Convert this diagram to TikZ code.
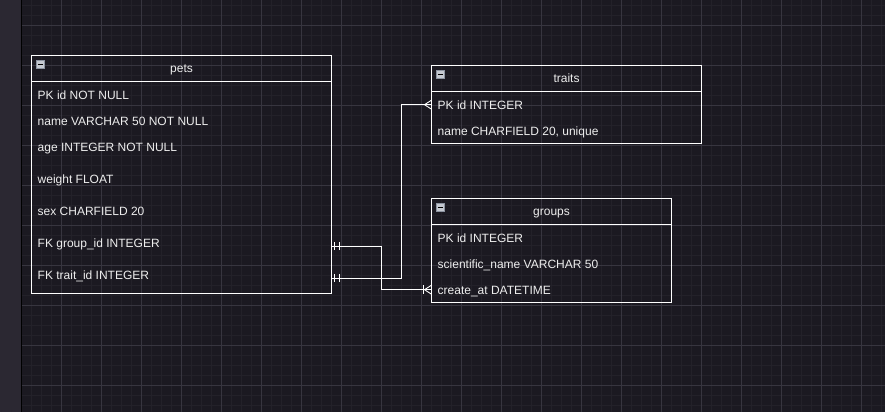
\documentclass[tikz,border=0pt]{standalone}
\usepackage{fontspec}
\setmainfont{Liberation Sans}
\usetikzlibrary{positioning}
\definecolor{erd-bg}{HTML}{1B1921}
\definecolor{erd-strip}{HTML}{2B2832}
\definecolor{erd-minor}{HTML}{232129}
\definecolor{erd-major}{HTML}{37353F}
\definecolor{erd-text}{HTML}{EEEEEE}
\definecolor{erd-icon}{HTML}{C4C8D0}
\definecolor{erd-iconedge}{HTML}{8C93A0}

\tikzset{
    tablebox/.style={draw=white, line width=0.9pt, anchor=north west, inner sep=0, outer sep=0},
    tabletitle/.style={text=erd-text, font=\fontsize{12}{14}\selectfont, inner sep=0, anchor=base},
    tablerow/.style={text=erd-text, font=\fontsize{12}{14}\selectfont, inner xsep=0,
        inner ysep=0, text height=8.6pt, text depth=0pt, anchor=base west},
    erline/.style={draw=white, line width=0.9pt},
    minusicon/.style={fill=erd-icon, draw=erd-iconedge, line width=0.6pt}
}

\begin{document}
\begin{tikzpicture}[x=1pt, y=-1pt]

    % canvas and grid
    \fill[erd-bg] (0,0) rectangle (885,412);
    \useasboundingbox (0,0) rectangle (885,412);
    \foreach \x in {31,41,...,881} {
        \draw[erd-minor, line width=0.5pt] (\x,0) -- (\x,412);
    }
    \foreach \y in {5,15,...,405} {
        \draw[erd-minor, line width=0.5pt] (21,\y) -- (885,\y);
    }
    \foreach \x in {61,101,...,861} {
        \draw[erd-major, line width=0.7pt] (\x,0) -- (\x,412);
    }
    \foreach \y in {25,65,...,385} {
        \draw[erd-major, line width=0.7pt] (21,\y) -- (885,\y);
    }
    \fill[erd-strip] (0,0) rectangle (21,412);
    \draw[black, line width=0.8pt] (21,0) -- (21,412);

    % table: pets
    \node[tablebox, minimum width=300pt, minimum height=237.5pt] (pets) at (31.5,55.5) {};
    \draw[erline] (31.5,81.5) -- (331.5,81.5);
    \draw[minusicon] (36,60) rectangle (44.5,68.5);
    \draw[black, line width=1.2pt] (37.8,64.3) -- (42.7,64.3);
    \node[tabletitle] (pets-title) at (181.5,72.5) {pets};
    \node[tablerow] (pets-id) at (37.5,99) {PK id NOT NULL};
    \node[tablerow] (pets-name) at (37.5,125) {name VARCHAR 50 NOT NULL};
    \node[tablerow] (pets-age) at (37.5,151) {age INTEGER NOT NULL};
    \node[tablerow] (pets-weight) at (37.5,183) {weight FLOAT};
    \node[tablerow] (pets-sex) at (37.5,215) {sex CHARFIELD 20};
    \node[tablerow] (pets-group) at (37.5,247) {FK group\_id INTEGER};
    \node[tablerow] (pets-trait) at (37.5,279) {FK trait\_id INTEGER};

    % table: traits
    \node[tablebox, minimum width=270pt, minimum height=77.5pt] (traits) at (431.5,65.5) {};
    \draw[erline] (431.5,91.5) -- (701.5,91.5);
    \draw[minusicon] (436,70) rectangle (444.5,78.5);
    \draw[black, line width=1.2pt] (437.8,74.3) -- (442.7,74.3);
    \node[tabletitle] (traits-title) at (566.5,82) {traits};
    \node[tablerow] (traits-id) at (437.5,109) {PK id INTEGER};
    \node[tablerow] (traits-name) at (437.5,135) {name CHARFIELD 20, unique};

    % table: groups
    \node[tablebox, minimum width=240pt, minimum height=103.5pt] (groups) at (431.5,198.5) {};
    \draw[erline] (431.5,224.5) -- (671.5,224.5);
    \draw[minusicon] (436,203) rectangle (444.5,211.5);
    \draw[black, line width=1.2pt] (437.8,207.3) -- (442.7,207.3);
    \node[tabletitle] (groups-title) at (551.5,215) {groups};
    \node[tablerow] (groups-id) at (437.5,242) {PK id INTEGER};
    \node[tablerow] (groups-sciname) at (437.5,268) {scientific\_name VARCHAR 50};
    \node[tablerow] (groups-create) at (437.5,294) {create\_at DATETIME};

    % relation: pets.group_id -> groups
    \coordinate (group-start) at ([yshift=1pt]pets-group.base -| pets.east);
    \coordinate (group-end) at (groups-create.west -| groups.west);
    \draw[erline] (group-start) -- ++(50,0) |- (group-end);
    \draw[erline] (group-start) ++(3,-4) -- ++(0,8) ++(5,0) -- ++(0,-8);
    \draw[erline] (group-end) ++(-7,0) -- ++(7,-4.5) ++(-7,4.5) -- ++(7,4.5);
    \draw[erline] (group-end) ++(-8,-4.5) -- ++(0,9);

    % relation: pets.trait_id -> traits
    \coordinate (trait-start) at ([yshift=1pt]pets-trait.base -| pets.east);
    \coordinate (trait-end) at (traits-id.west -| traits.west);
    \draw[erline] (trait-start) -- ++(70,0) |- (trait-end);
    \draw[erline] (trait-start) ++(3,-4) -- ++(0,8) ++(5,0) -- ++(0,-8);
    \draw[erline] (trait-end) ++(-7,0) -- ++(7,-4.5) ++(-7,4.5) -- ++(7,4.5);

\end{tikzpicture}
\end{document}
